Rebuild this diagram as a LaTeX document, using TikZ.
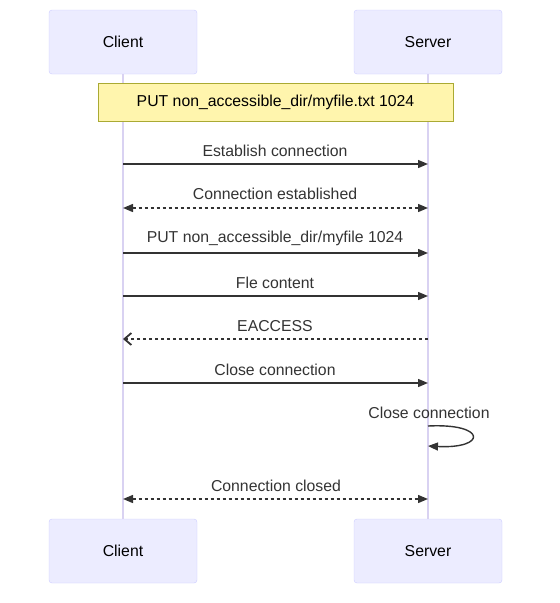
\documentclass[tikz,border=0pt]{standalone}
\usepackage{fontspec}
\setmainfont{Liberation Sans}
\usetikzlibrary{arrows.meta}
\definecolor{actfill}{HTML}{ECECFF}
\definecolor{actline}{HTML}{CCCCFF}
\definecolor{lifeln}{HTML}{D9D2F2}
\definecolor{notefill}{HTML}{FFF5AD}
\definecolor{noteline}{HTML}{AAAA33}
\definecolor{msg}{HTML}{333333}
\tikzset{
  actor/.style={draw=actline, fill=actfill, rounded corners=3pt, minimum width=148pt, minimum height=64pt, inner sep=0pt, font=\fontsize{15.8}{19}\selectfont, text=black},
  notebox/.style={draw=noteline, fill=notefill, minimum width=355pt, minimum height=38pt, inner sep=0pt, font=\fontsize{15.8}{19}\selectfont, text=black},
  lifeline/.style={draw=lifeln, line width=1.2pt},
  msgline/.style={draw=msg, line width=1.4pt},
  solidmsg/.style={msgline, -{Triangle[length=10pt,width=8pt]}},
  dotmsg/.style={msgline, dash pattern=on 3pt off 3pt, {Triangle[length=10pt,width=8pt]}-{Triangle[length=10pt,width=8pt]}},
  replymsg/.style={msgline, dash pattern=on 3pt off 3pt, -{Straight Barb[length=7pt,width=12pt,line width=1.8pt]}},
  lbl/.style={font=\fontsize{15.8}{19}\selectfont, text=msg, inner sep=0pt},
}
\begin{document}
\begin{tikzpicture}[x=1pt,y=-1pt]
\useasboundingbox (0,0) rectangle (560,603);
% lifelines
\node[actor] (ct) at (123,42) {Client};
\node[actor] (st) at (428,42) {Server};
\node[actor] (cb) at (123,551) {Client};
\node[actor] (sb) at (428,551) {Server};
\draw[lifeline] (ct.south) -- (cb.north);
\draw[lifeline] (st.south) -- (sb.north);
% note
\node[notebox] (note) at (275.5,102) {PUT non\_accessible\_dir/myfile.txt 1024};
% message end points
\foreach \n/\y in {1/164,2/208,3/253,4/296,5/339,6/383,8/499}{
  \coordinate (c\n) at (123,\y);
  \coordinate (s\n) at (428,\y);
}
\coordinate (la) at (428,426);
\coordinate (lb) at (428,446);
% messages
\draw[solidmsg] (c1) -- (s1);
\node[lbl] (t1) at (275,151) {Establish connection};
\draw[dotmsg] (c2) -- (s2);
\node[lbl] (t2) at (275,194) {Connection established};
\draw[solidmsg] (c3) -- (s3);
\node[lbl] (t3) at (275,238) {PUT non\_accessible\_dir/myfile 1024};
\draw[solidmsg] (c4) -- (s4);
\node[lbl] (t4) at (275,283) {Fle content};
\draw[replymsg] (s5) -- (c5);
\node[lbl] (t5) at (275,326) {EACCESS};
\draw[solidmsg] (c6) -- (s6);
\node[lbl] (t6) at (275,370) {Close connection};
\node[lbl] (t7) at (429,413) {Close connection};
\draw[msgline, -{Triangle[length=10pt,width=8pt]}] (la) .. controls (487,423) and (487,449) .. (lb);
\draw[dotmsg] (c8) -- (s8);
\node[lbl] (t8) at (276,486) {Connection closed};
\end{tikzpicture}
\end{document}
